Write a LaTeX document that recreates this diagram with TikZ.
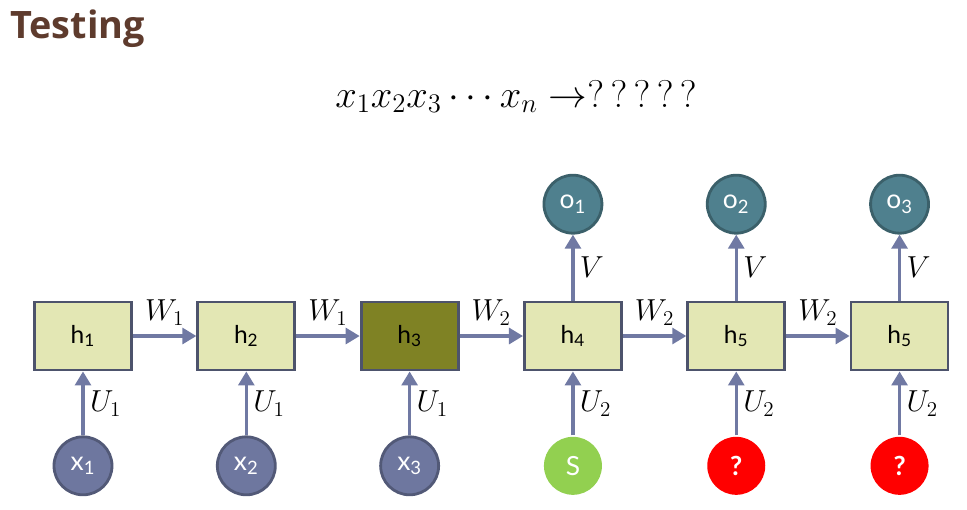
\documentclass[tikz,border=0pt]{standalone}
\usepackage{fontspec}
\setsansfont{Lato}
\newfontfamily\titlefont{Open Sans}
\usepackage{tikz}
\usetikzlibrary{arrows.meta,positioning}
\definecolor{titlebrown}{HTML}{5E3B2D}
\definecolor{edgeslate}{HTML}{4D536C}
\definecolor{flowslate}{HTML}{7079A3}
\definecolor{cellyellow}{HTML}{E3E7B4}
\definecolor{cellolive}{HTML}{7F8224}
\definecolor{inslate}{HTML}{6E779F}
\definecolor{outteal}{HTML}{4F808E}
\definecolor{startgreen}{HTML}{92D050}
\definecolor{unkred}{HTML}{FF0000}
\tikzset{
  cellbox/.style={
    rectangle, draw=edgeslate, fill=#1, line width=1.6pt,
    minimum width=1.94cm, minimum height=1.36cm,
    font=\sffamily\fontsize{14}{16}\selectfont, inner sep=2pt
  },
  cellbox/.default=cellyellow,
  tokcircle/.style={
    circle, draw=#1!75!black, fill=#1, line width=1.6pt,
    minimum size=1.16cm, inner sep=0pt, text=white,
    font=\sffamily\fontsize{15}{17}\selectfont
  },
  tokcircle/.default=inslate,
  flowarrow/.style={
    -{Triangle[length=8pt,width=9pt]}, line width=2pt, draw=flowslate
  },
  wlabel/.style={font=\fontsize{17}{20}\selectfont, inner sep=3pt},
}

\begin{document}
\begin{tikzpicture}[node distance=1.28cm and 1.27cm]
\useasboundingbox (0,0) rectangle (19.34,-10.18);
\node[anchor=base west, inner sep=0pt, text=titlebrown,
  font=\titlefont\bfseries\fontsize{21.5}{25}\selectfont] (title) at (0.2,-0.76) {Testing};
\node[anchor=base, inner sep=0pt, font=\fontsize{22}{26}\selectfont, scale=1.06, transform shape]
  (seq) at (10.32,-2.14) {$x_1x_2x_3\cdots x_n\;{\rightarrow}{?\,?\,?\,?\,?}$};
% hidden cells
\node[cellbox] (h-1) at (1.66,-6.72) {h\textsubscript{1}};
\node[cellbox, right=of h-1] (h-2) {h\textsubscript{2}};
\node[cellbox=cellolive, right=of h-2] (h-3) {h\textsubscript{3}};
\node[cellbox, right=of h-3] (h-4) {h\textsubscript{4}};
\node[cellbox, right=of h-4] (h-5) {h\textsubscript{5}};
\node[cellbox, right=of h-5] (h-6) {h\textsubscript{5}};
% inputs
\node[tokcircle, below=of h-1] (x-1) {x\textsubscript{1}};
\node[tokcircle, below=of h-2] (x-2) {x\textsubscript{2}};
\node[tokcircle, below=of h-3] (x-3) {x\textsubscript{3}};
\node[tokcircle=startgreen, draw=none, below=of h-4] (s-4) {S};
\node[tokcircle=unkred, draw=none, below=of h-5] (q-5) {\bfseries ?};
\node[tokcircle=unkred, draw=none, below=of h-6] (q-6) {\bfseries ?};
% outputs
\node[tokcircle=outteal, above=1.32cm of h-4] (o-4) {o\textsubscript{1}};
\node[tokcircle=outteal, above=1.32cm of h-5] (o-5) {o\textsubscript{2}};
\node[tokcircle=outteal, above=1.32cm of h-6] (o-6) {o\textsubscript{3}};
% recurrent links
\draw[flowarrow] (h-1.east) -- (h-2.west) node[midway, above, wlabel, yshift=2pt] {$W_1$};
\draw[flowarrow] (h-2.east) -- (h-3.west) node[midway, above, wlabel, yshift=2pt] {$W_1$};
\draw[flowarrow] (h-3.east) -- (h-4.west) node[midway, above, wlabel, yshift=2pt] {$W_2$};
\draw[flowarrow] (h-4.east) -- (h-5.west) node[midway, above, wlabel, yshift=2pt] {$W_2$};
\draw[flowarrow] (h-5.east) -- (h-6.west) node[midway, above, wlabel, yshift=2pt] {$W_2$};
% input links
\draw[flowarrow] (x-1) -- (h-1) node[midway, right, wlabel] {$U_1$};
\draw[flowarrow] (x-2) -- (h-2) node[midway, right, wlabel] {$U_1$};
\draw[flowarrow] (x-3) -- (h-3) node[midway, right, wlabel] {$U_1$};
\draw[flowarrow] (s-4) -- (h-4) node[midway, right, wlabel] {$U_2$};
\draw[flowarrow] (q-5) -- (h-5) node[midway, right, wlabel] {$U_2$};
\draw[flowarrow] (q-6) -- (h-6) node[midway, right, wlabel] {$U_2$};
% output links
\draw[flowarrow] (h-4) -- (o-4) node[midway, right, wlabel] {$V$};
\draw[flowarrow] (h-5) -- (o-5) node[midway, right, wlabel] {$V$};
\draw[flowarrow] (h-6) -- (o-6) node[midway, right, wlabel] {$V$};
\end{tikzpicture}
\end{document}
